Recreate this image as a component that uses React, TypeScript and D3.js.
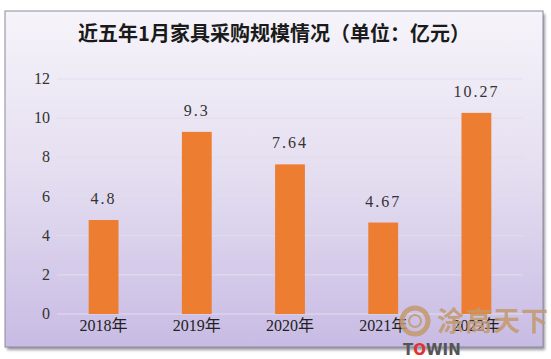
import React from "react";
import * as d3 from "d3";

const years = ["2018年", "2019年", "2020年", "2021年", "2022年"];
const values = [4.8, 9.3, 7.64, 4.67, 10.27];
const yTicks = [0, 2, 4, 6, 8, 10, 12];
const title = "近五年1月家具采购规模情况（单位：亿元）";

export default function App() {
  const W = 551, H = 359;
  const left = 57, right = 523, top = 79, bottom = 314;
  const x = d3.scaleBand<string>().domain(years).range([left, right]).paddingInner(0.68).paddingOuter(0.34);
  const y = d3.scaleLinear().domain([0, 12]).range([bottom, top]);
  const serif = "'Liberation Serif', 'Noto Sans CJK SC', serif";
  return (
    <svg width={W} height={H} style={{ position: "absolute", left: 0, top: 0 }}>
      <defs>
        <linearGradient id="bg" x1="0" y1="0" x2="0" y2="1">
          <stop offset="0" stopColor="#f6f4fa" />
          <stop offset="0.5" stopColor="#e4ddf0" />
          <stop offset="1" stopColor="#c8bbe4" />
        </linearGradient>
        <filter id="sh" x="-5%" y="-5%" width="110%" height="115%">
          <feGaussianBlur stdDeviation="1.5" />
        </filter>
      </defs>
      <rect x={0} y={0} width={W} height={H} fill="#ffffff" />
      <rect x={7} y={14} width={538} height={336} fill="#9a96a4" filter="url(#sh)" />
      <rect x={5} y={11} width={538} height={336} fill="url(#bg)" stroke="#8c8a98" strokeWidth={1} />
      <text x={274} y={41} textAnchor="middle" fontSize={20} fontWeight="bold"
        fontFamily="'Noto Sans CJK SC', sans-serif" fill="#1a1a1a">{title}</text>
      {yTicks.map((t) => (
        <g key={t}>
          <line x1={left} x2={right} y1={y(t)} y2={y(t)} stroke="#e2ddec" strokeWidth={1} />
          <text x={50} y={y(t) + 5} textAnchor="end" fontSize={16} fontFamily={serif} fill="#333">{t}</text>
        </g>
      ))}
      {years.map((yr, i) => (
        <g key={yr}>
          <rect x={x(yr)!} y={y(values[i])} width={x.bandwidth()} height={bottom - y(values[i])} fill="#ed7d31" />
          <text x={x(yr)! + x.bandwidth() / 2} y={y(values[i]) - 16} textAnchor="middle" fontSize={16}
            letterSpacing={2} fontFamily={serif} fill="#333">{String(values[i])}</text>
          <text x={x(yr)! + x.bandwidth() / 2} y={331} textAnchor="middle" fontSize={16}
            fontFamily={serif} fill="#222">{yr}</text>
        </g>
      ))}
      <g opacity={0.85}>
        <circle cx={415} cy={321} r={13} fill="none" stroke="#c29a6c" strokeWidth={5} />
        <circle cx={415} cy={321} r={6} fill="none" stroke="#c29a6c" strokeWidth={2} />
        <text x={437} y={331} fontSize={27} fontWeight="bold" fontFamily="'Noto Sans CJK SC', sans-serif" fill="#c29a6c" letterSpacing={1}>涂高天下</text>
      </g>
      <text x={403} y={355} fontSize={15} fontWeight="bold" fontFamily="'DejaVu Sans', sans-serif" fill="#555">
        T<tspan fill="#d33">O</tspan>WIN
      </text>
    </svg>
  );
}
